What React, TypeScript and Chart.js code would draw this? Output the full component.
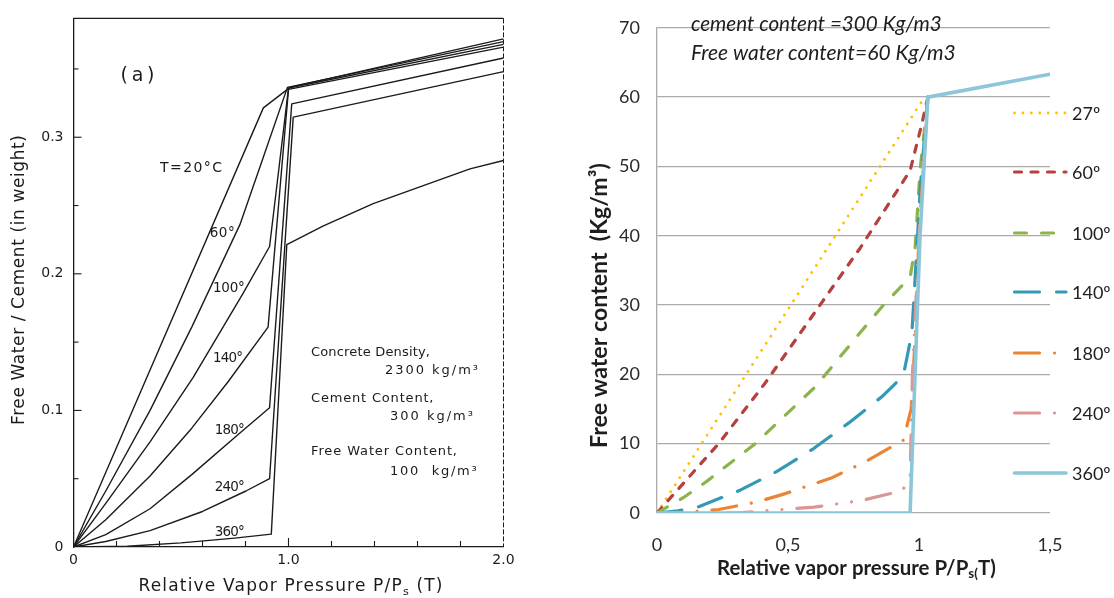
import React, { useEffect, useRef } from 'react';
import { Chart, registerables } from 'chart.js';
Chart.register(...registerables);

type P = { x: number; y: number };

// ---------------- Panel (a): Free water / cement (in weight) ----------------
const leftLabels = ['20°C', '60°', '100°', '140°', '180°', '240°', '360°'];
const leftT20: P[] = [{ x: 0, y: 0 }, { x: 0.883, y: 0.3215 }, { x: 1.007, y: 0.3365 }, { x: 2.0, y: 0.372 }];
const leftT60: P[] = [{ x: 0, y: 0 }, { x: 0.15, y: 0.041 }, { x: 0.356, y: 0.1 }, { x: 0.55, y: 0.161 }, { x: 0.774, y: 0.236 }, { x: 0.88, y: 0.284 }, { x: 0.995, y: 0.3365 }, { x: 2.0, y: 0.37 }];
const leftT100: P[] = [{ x: 0, y: 0 }, { x: 0.15, y: 0.032 }, { x: 0.356, y: 0.077 }, { x: 0.556, y: 0.124 }, { x: 0.79, y: 0.186 }, { x: 0.912, y: 0.22 }, { x: 1.0, y: 0.336 }, { x: 2.0, y: 0.368 }];
const leftT140: P[] = [{ x: 0, y: 0 }, { x: 0.15, y: 0.02 }, { x: 0.356, y: 0.052 }, { x: 0.55, y: 0.087 }, { x: 0.719, y: 0.121 }, { x: 0.905, y: 0.161 }, { x: 1.0, y: 0.335 }, { x: 2.0, y: 0.366 }];
const leftT180: P[] = [{ x: 0, y: 0 }, { x: 0.15, y: 0.009 }, { x: 0.356, y: 0.028 }, { x: 0.55, y: 0.053 }, { x: 0.774, y: 0.0835 }, { x: 0.912, y: 0.102 }, { x: 1.015, y: 0.3244 }, { x: 2.0, y: 0.358 }];
const leftT240: P[] = [{ x: 0, y: 0 }, { x: 0.15, y: 0.004 }, { x: 0.356, y: 0.012 }, { x: 0.6, y: 0.026 }, { x: 0.802, y: 0.041 }, { x: 0.912, y: 0.05 }, { x: 1.022, y: 0.3147 }, { x: 2.0, y: 0.348 }];
const leftT360: P[] = [{ x: 0, y: 0 }, { x: 0.25, y: 0.0005 }, { x: 0.5, y: 0.003 }, { x: 0.75, y: 0.0065 }, { x: 0.92, y: 0.0094 }, { x: 0.992, y: 0.2213 }, { x: 1.16, y: 0.235 }, { x: 1.394, y: 0.2514 }, { x: 1.844, y: 0.2768 }, { x: 2.0, y: 0.283 }];
const leftSeries = [leftT20, leftT60, leftT100, leftT140, leftT180, leftT240, leftT360];
const leftXLabelled = [0, 1, 2];
const leftYLabelled = [0, 0.1, 0.2, 0.3];

// ---------------- Panel (b): Free water content (Kg/m3) ----------------
const rightLabels = ['27º', '60º', '100º', '140º', '180º', '240º', '360º'];
const r27: P[] = [{ x: 0, y: 0 }, { x: 1.016, y: 59.7 }, { x: 1.034, y: 60 }];
const r60: P[] = [{ x: 0, y: 0 }, { x: 0.235, y: 10 }, { x: 0.41, y: 18.6 }, { x: 0.622, y: 30 }, { x: 0.775, y: 38.2 }, { x: 0.966, y: 49.4 }, { x: 1.01, y: 56 }, { x: 1.034, y: 60 }];
const r100: P[] = [{ x: 0, y: 0 }, { x: 0.1, y: 2.2 }, { x: 0.191, y: 4.6 }, { x: 0.375, y: 10 }, { x: 0.604, y: 18.2 }, { x: 0.775, y: 26 }, { x: 0.864, y: 30 }, { x: 0.966, y: 34 }, { x: 0.985, y: 38.2 }, { x: 1.004, y: 49.4 }, { x: 1.034, y: 60 }];
const r140: P[] = [{ x: 0, y: 0 }, { x: 0.08, y: 0.3 }, { x: 0.159, y: 0.9 }, { x: 0.312, y: 3.2 }, { x: 0.458, y: 6.0 }, { x: 0.598, y: 9.3 }, { x: 0.732, y: 13.0 }, { x: 0.859, y: 16.8 }, { x: 0.94, y: 19.8 }, { x: 0.973, y: 26 }, { x: 0.99, y: 37 }, { x: 1.005, y: 47 }, { x: 1.034, y: 60 }];
const r180: P[] = [{ x: 0, y: 0 }, { x: 0.1, y: 0.1 }, { x: 0.235, y: 0.5 }, { x: 0.382, y: 1.6 }, { x: 0.49, y: 2.8 }, { x: 0.668, y: 5.1 }, { x: 0.795, y: 7.4 }, { x: 0.94, y: 10.5 }, { x: 0.97, y: 15 }, { x: 0.985, y: 25 }, { x: 1.0, y: 40 }, { x: 1.034, y: 60 }];
const r240: P[] = [{ x: 0, y: 0 }, { x: 0.3, y: 0 }, { x: 0.44, y: 0.4 }, { x: 0.6, y: 0.85 }, { x: 0.78, y: 1.8 }, { x: 0.935, y: 3.2 }, { x: 0.966, y: 5 }, { x: 0.975, y: 20 }, { x: 1.0, y: 40 }, { x: 1.034, y: 60 }];
const r360: P[] = [{ x: 0, y: 0 }, { x: 0.966, y: 0 }, { x: 0.985, y: 20 }, { x: 1.004, y: 40 }, { x: 1.034, y: 60 }, { x: 1.5, y: 63.3 }];
const rightSeries = [r27, r60, r100, r140, r180, r240, r360];

// ---------------- styles ----------------
const INK = '#1b1b1b';
const SCAN_FONT = '"DejaVu Sans", "Liberation Sans", sans-serif';
const XL_FONT = 'Lato, "Open Sans", "DejaVu Sans", sans-serif';
const rightColors = ['#FFC000', '#B5403D', '#8DB34B', '#3399B6', '#EB8533', '#D99694', '#8CC6D9'];
const rightWidths = [2.8, 3.2, 3.2, 3.2, 3.2, 3.2, 3.6];
const rightDashes: number[][] = [[0.01, 8.4], [7, 9.5], [12, 15], [25, 17], [25, 15, 0.01, 15], [25, 15, 0.01, 15, 0.01, 15], []];

type Part = { t: string; sub?: boolean };

function drawRun(ctx: CanvasRenderingContext2D, parts: Part[], x: number, cy: number, width: number,
  size: number, family: string, mode: 'spacing' | 'scale', weight = 'normal', style = 'normal') {
  const anyCtx = ctx as any;
  const hasLS = 'letterSpacing' in anyCtx;
  if (hasLS) anyCtx.letterSpacing = '0px';
  const fontOf = (p: Part, s: number) => `${style} ${weight} ${p.sub ? s * 0.66 : s}px ${family}`;
  let natural = 0;
  let n = 0;
  for (const p of parts) { ctx.font = fontOf(p, size); natural += ctx.measureText(p.t).width; n += Array.from(p.t).length; }
  let s = size;
  let ls = 0;
  if (mode === 'spacing' && hasLS && n > 1) ls = (width - natural) / (n - 1);
  else s = size * width / natural;
  if (hasLS) anyCtx.letterSpacing = ls + 'px';
  ctx.textAlign = 'left';
  ctx.textBaseline = 'middle';
  let cx = x;
  for (const p of parts) {
    ctx.font = fontOf(p, s);
    ctx.fillText(p.t, cx, p.sub ? cy + s * 0.3 : cy);
    cx += ctx.measureText(p.t).width;
  }
  if (hasLS) anyCtx.letterSpacing = '0px';
}

const isMult = (v: number, step: number) => Math.abs(v / step - Math.round(v / step)) < 1e-6;

const leftNotes = [
  { t: '(a)', x: 120.5, y: 76, w: 34, s: 19 },
  { t: 'T=20°C', x: 160, y: 168, w: 62, s: 14 },
  { t: '60°', x: 209.7, y: 233, w: 25, s: 13.5 },
  { t: '100°', x: 213, y: 288, w: 31.7, s: 13.5 },
  { t: '140°', x: 213, y: 358, w: 30, s: 13.5 },
  { t: '180°', x: 214.7, y: 430, w: 30, s: 13.5 },
  { t: '240°', x: 214.7, y: 487, w: 30, s: 13.5 },
  { t: '360°', x: 214.7, y: 532, w: 30, s: 13.5 },
  { t: 'Concrete Density,', x: 311, y: 353, w: 119, s: 13 },
  { t: '2300 kg/m³', x: 385, y: 371, w: 93, s: 13 },
  { t: 'Cement Content,', x: 311, y: 399, w: 122.5, s: 13 },
  { t: '300 kg/m³', x: 390, y: 417, w: 83, s: 13 },
  { t: 'Free Water Content,', x: 311, y: 452, w: 146, s: 13 },
  { t: '100  kg/m³', x: 390, y: 472, w: 86.6, s: 13 },
];

const leftDecor = {
  id: 'leftDecor',
  afterDraw(chart: any) {
    const { ctx, chartArea, scales } = chart;
    const { left, right, top, bottom } = chartArea;
    const xs = scales.x;
    const ys = scales.y;
    ctx.save();
    ctx.strokeStyle = INK;
    ctx.lineWidth = 1.3;
    ctx.beginPath(); ctx.moveTo(left, top); ctx.lineTo(right, top); ctx.stroke();
    ctx.lineWidth = 1;
    ctx.setLineDash([5, 2]);
    ctx.beginPath(); ctx.moveTo(right, top); ctx.lineTo(right, bottom); ctx.stroke();
    ctx.setLineDash([]);
    ctx.lineWidth = 1.1;
    for (const t of ys.ticks) {
      if (t.value <= 0) continue;
      const py = ys.getPixelForValue(t.value);
      const len = isMult(t.value, 0.1) ? 8 : 5;
      ctx.beginPath(); ctx.moveTo(left, py); ctx.lineTo(left + len, py); ctx.stroke();
    }
    for (const t of xs.ticks) {
      if (t.value <= 0 || t.value >= 2) continue;
      const px = xs.getPixelForValue(t.value);
      const len = isMult(t.value, 1) ? 9 : 6;
      ctx.beginPath(); ctx.moveTo(px, bottom); ctx.lineTo(px, bottom - len); ctx.stroke();
    }
    ctx.fillStyle = INK;
    for (const n of leftNotes) drawRun(ctx, [{ t: n.t }], n.x, n.y, n.w, n.s, SCAN_FONT, 'spacing');
    // axis titles
    drawRun(ctx, [{ t: 'Relative Vapor Pressure P/P' }, { t: 's', sub: true }, { t: ' (T)' }], 138.5, 587, 304, 17, SCAN_FONT, 'spacing');
    ctx.save();
    ctx.translate(20, 280);
    ctx.rotate(-Math.PI / 2);
    drawRun(ctx, [{ t: 'Free Water / Cement (in weight)' }], -145, 0, 290, 17, SCAN_FONT, 'spacing');
    ctx.restore();
    ctx.restore();
  },
};

const rightDecor = {
  id: 'rightDecor',
  afterDraw(chart: any) {
    const { ctx } = chart;
    ctx.save();
    // legend
    const ly = [113, 172, 233, 292, 353, 413, 473];
    chart.data.datasets.forEach((ds: any, i: number) => {
      ctx.strokeStyle = ds.borderColor;
      ctx.lineWidth = ds.borderWidth;
      ctx.setLineDash(ds.borderDash || []);
      ctx.lineCap = ds.borderCapStyle || 'butt';
      ctx.beginPath(); ctx.moveTo(454.5, ly[i]); ctx.lineTo(506, ly[i]); ctx.stroke();
      ctx.setLineDash([]);
      ctx.fillStyle = '#1e1e1e';
      ctx.font = `18px ${XL_FONT}`;
      ctx.textAlign = 'left';
      ctx.textBaseline = 'middle';
      ctx.fillText(ds.label, 512, ly[i] + 1);
    });
    ctx.fillStyle = '#1e1e1e';
    drawRun(ctx, [{ t: 'cement content =300 Kg/m3' }], 131, 24, 251, 18, XL_FONT, 'scale', 'normal', 'italic');
    drawRun(ctx, [{ t: 'Free water content=60 Kg/m3' }], 131, 53, 265, 18, XL_FONT, 'scale', 'normal', 'italic');
    drawRun(ctx, [{ t: 'Relative vapor pressure P/P' }, { t: 's(', sub: true }, { t: 'T)' }], 157, 568, 279, 19, XL_FONT, 'scale', 'bold');
    ctx.save();
    ctx.translate(40, 305.5);
    ctx.rotate(-Math.PI / 2);
    drawRun(ctx, [{ t: 'Free water content  (Kg/m³)' }], -142.5, 0, 285, 19, XL_FONT, 'scale', 'bold');
    ctx.restore();
    ctx.restore();
  },
};

function leftConfig(): any {
  return {
    type: 'scatter',
    data: {
      datasets: leftSeries.map((d, i) => ({
        label: leftLabels[i], data: d, showLine: true, borderColor: INK, borderWidth: 1.4,
        pointRadius: 0, tension: 0, borderJoinStyle: 'round',
      })),
    },
    options: {
      responsive: false, animation: false, devicePixelRatio: 1, events: [],
      layout: { padding: { left: 0, right: 56.5, top: 13, bottom: 0 } },
      plugins: { legend: { display: false }, tooltip: { enabled: false } },
      scales: {
        x: {
          type: 'linear', min: 0, max: 2,
          afterFit: (s: any) => { s.height = 51; },
          grid: { display: false, drawTicks: false },
          border: { display: true, color: INK, width: 1.3 },
          ticks: {
            stepSize: 0.2, autoSkip: false, maxRotation: 0, padding: 5, color: INK,
            font: { family: SCAN_FONT, size: 14 },
            callback: (v: number) => {
              const hit = leftXLabelled.find((l) => Math.abs(l - v) < 1e-6);
              return hit === undefined ? '' : hit === 0 ? '0' : hit.toFixed(1);
            },
          },
        },
        y: {
          type: 'linear', min: 0, max: 0.387,
          afterFit: (s: any) => { s.width = 73.5; },
          grid: { display: false, drawTicks: false },
          border: { display: true, color: INK, width: 1.3 },
          ticks: {
            stepSize: 0.05, includeBounds: false, autoSkip: false, padding: 10, color: INK,
            font: { family: SCAN_FONT, size: 14 },
            callback: (v: number) => {
              const hit = leftYLabelled.find((l) => Math.abs(l - v) < 1e-6);
              return hit === undefined ? '' : hit === 0 ? '0' : hit.toFixed(1);
            },
          },
        },
      },
    },
    plugins: [leftDecor],
  };
}

function rightConfig(): any {
  return {
    type: 'scatter',
    data: {
      datasets: rightSeries.map((d, i) => ({
        label: rightLabels[i], data: d, showLine: true, borderColor: rightColors[i], borderWidth: rightWidths[i],
        borderDash: rightDashes[i], borderCapStyle: 'round', borderJoinStyle: 'round',
        pointRadius: 0, tension: 0, order: rightSeries.length - i,
      })),
    },
    options: {
      responsive: false, animation: false, devicePixelRatio: 1, events: [],
      layout: { padding: { left: 0, right: 64, top: 13, bottom: 0 } },
      plugins: { legend: { display: false }, tooltip: { enabled: false } },
      scales: {
        x: {
          type: 'linear', min: 0, max: 1.5,
          afterFit: (s: any) => { s.height = 85; },
          grid: { display: false, drawTicks: false },
          border: { display: false },
          ticks: {
            stepSize: 0.5, autoSkip: false, maxRotation: 0, padding: 21, color: '#2a2a2a',
            font: { family: XL_FONT, size: 18 },
            callback: (v: number) => String(Math.round(v * 10) / 10).replace('.', ','),
          },
        },
        y: {
          type: 'linear', min: 0, max: 70,
          afterFit: (s: any) => { s.width = 97; },
          grid: { display: true, drawTicks: false, color: '#ABABAB', lineWidth: 1.3 },
          border: { display: true, color: '#ABABAB', width: 1.3 },
          ticks: {
            stepSize: 10, padding: 17, color: '#2a2a2a',
            font: { family: XL_FONT, size: 18 },
          },
        },
      },
    },
    plugins: [rightDecor],
  };
}

export default function App() {
  const leftRef = useRef<HTMLCanvasElement>(null);
  const rightRef = useRef<HTMLCanvasElement>(null);
  useEffect(() => {
    const c1 = new Chart(leftRef.current as HTMLCanvasElement, leftConfig());
    const c2 = new Chart(rightRef.current as HTMLCanvasElement, rightConfig());
    return () => { c1.destroy(); c2.destroy(); };
  }, []);
  return (
    <div style={{ position: 'fixed', left: 0, top: 0, width: 1114, height: 598, background: '#fff' }}>
      <canvas ref={leftRef} width={560} height={598} style={{ position: 'absolute', left: 0, top: 0, width: 560, height: 598 }} />
      <canvas ref={rightRef} width={554} height={598} style={{ position: 'absolute', left: 560, top: 0, width: 554, height: 598 }} />
    </div>
  );
}
